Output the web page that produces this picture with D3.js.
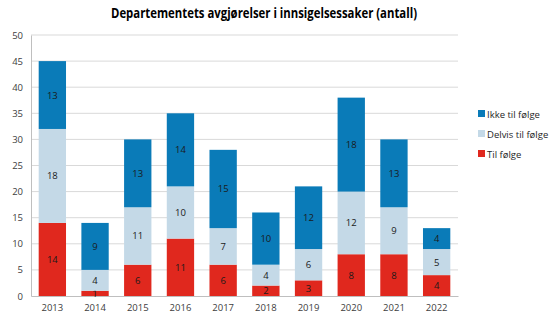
<!DOCTYPE html>
<html>
<head>
<meta charset="utf-8">
<script src="https://cdn.jsdelivr.net/npm/d3@7"></script>
<style>
  body { margin: 0; background: #fff; }
  text { font-family: "Open Sans", "Liberation Sans", sans-serif; }
</style>
</head>
<body>
<svg width="560" height="315"></svg>
<script>
var years = ["2013","2014","2015","2016","2017","2018","2019","2020","2021","2022"];
var tilFolge = [14, 1, 6, 11, 6, 2, 3, 8, 8, 4];
var delvis = [18, 4, 11, 10, 7, 4, 6, 12, 9, 5];
var ikke = [13, 9, 13, 14, 15, 10, 12, 18, 13, 4];
var seriesNames = ["Til følge", "Delvis til følge", "Ikke til følge"];
var colors = ["#e0281e", "#c4d9e7", "#0a7bb8"];
var yTicks = [0, 5, 10, 15, 20, 25, 30, 35, 40, 45, 50];

var svg = d3.select("svg");
var margin = {left: 31, right: 102, top: 35, bottom: 19};
var width = 560 - margin.left - margin.right,
    height = 315 - margin.top - margin.bottom;

var rows = years.map(function(y, i) {
  return {year: y, s0: tilFolge[i], s1: delvis[i], s2: ikke[i]};
});
var stack = d3.stack().keys(["s0", "s1", "s2"]);
var layers = stack(rows);

var x = d3.scaleBand().domain(years).range([0, width]).paddingInner(0.36).paddingOuter(0.18);
var y = d3.scaleLinear().domain([0, 50]).range([height, 0]);

svg.append("text")
  .attr("x", 264).attr("y", 17.5)
  .attr("text-anchor", "middle")
  .attr("font-size", 13.5).attr("font-weight", "bold")
  .attr("fill", "#000")
  .attr("textLength", 306).attr("lengthAdjust", "spacingAndGlyphs")
  .text("Departementets avgjørelser i innsigelsessaker (antall)");

var g = svg.append("g").attr("transform", "translate(" + margin.left + "," + margin.top + ")");

// gridlines
g.selectAll(".grid").data(yTicks.slice(1)).enter().append("line")
  .attr("x1", 0).attr("x2", width)
  .attr("y1", function(d) { return y(d); }).attr("y2", function(d) { return y(d); })
  .attr("stroke", "#d9d9d9").attr("stroke-width", 1);

var yAxis = g.append("g").call(d3.axisLeft(y).tickValues(yTicks).tickSize(0).tickPadding(8));
yAxis.select(".domain").attr("stroke", "#bfbfbf");
yAxis.selectAll("text").attr("font-size", 9.5).attr("fill", "#404040");

var xAxis = g.append("g").attr("transform", "translate(0," + height + ")")
  .call(d3.axisBottom(x).tickSize(0).tickPadding(8));
xAxis.select(".domain").attr("stroke", "#bfbfbf");
xAxis.selectAll("text").attr("font-size", 9.5).attr("fill", "#404040");

layers.forEach(function(layer, li) {
  var lg = g.append("g");
  lg.selectAll("rect").data(layer).enter().append("rect")
    .attr("x", function(d) { return x(d.data.year); })
    .attr("width", x.bandwidth())
    .attr("y", function(d) { return y(d[1]); })
    .attr("height", function(d) { return y(d[0]) - y(d[1]); })
    .attr("fill", colors[li]);
  lg.selectAll("text").data(layer).enter().append("text")
    .attr("x", function(d) { return x(d.data.year) + x.bandwidth() / 2; })
    .attr("y", function(d) { return (y(d[0]) + y(d[1])) / 2 + 3.5; })
    .attr("text-anchor", "middle")
    .attr("font-size", 9.5)
    .attr("fill", "#1a1a1a")
    .text(function(d) { return d[1] - d[0]; });
});

// legend, top item is last series
var legend = svg.append("g").attr("transform", "translate(478,110)");
var order = [2, 1, 0];
order.forEach(function(si, k) {
  var item = legend.append("g").attr("transform", "translate(0," + (k * 20) + ")");
  item.append("rect").attr("x", 0).attr("y", 0).attr("width", 7).attr("height", 7).attr("fill", colors[si]);
  item.append("text").attr("x", 9).attr("y", 7.5)
    .attr("font-size", 9.5).attr("fill", "#262626").text(seriesNames[si]);
});
</script>
</body>
</html>
